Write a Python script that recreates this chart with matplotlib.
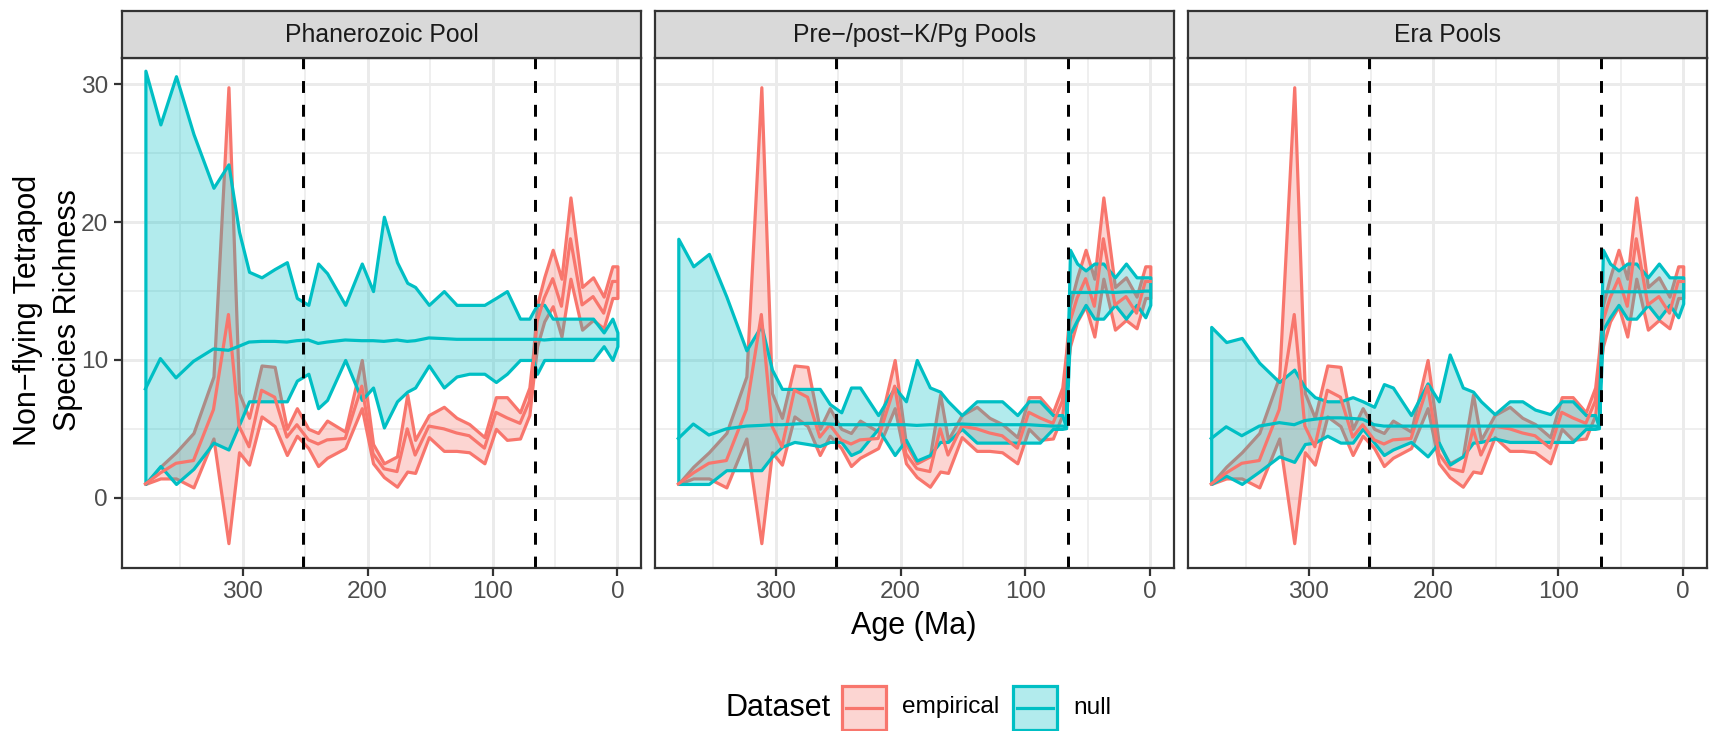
import matplotlib.pyplot as plt
from matplotlib.colors import to_rgba
from matplotlib.patches import Rectangle
from matplotlib.lines import Line2D

plt.rcParams['font.family'] = ['Liberation Sans', 'DejaVu Sans']

# time bins (Ma)
ages = [378, 366, 353.5, 339.5, 323.5, 311.5, 303, 295, 285, 274.5,
        264.7, 256.7, 247.5, 239.7, 232.5, 218, 204.7, 195.7, 187, 176.5,
        168.3, 162, 151, 139, 128.8, 118.7, 106.5, 97.3, 88.5, 78,
        70.5, 67.5, 64.3, 58.6, 51.8, 44.8, 37.6, 28.3, 19.5, 11, 4, 0]

# empirical richness (same in every panel)
emp_hi = [1.0, 2.25, 3.3, 4.7, 8.8, 29.8, 7.6, 5.8, 9.6, 9.5,
          5.0, 6.5, 5.0, 4.7, 5.6, 4.8, 10.0, 3.9, 2.5, 3.0,
          7.5, 4.2, 6.0, 6.6, 5.8, 5.35, 4.4, 7.3, 7.3, 6.2,
          8.0, 10.5, 14.0, 16.0, 18.0, 15.9, 21.8, 15.3, 16.0, 14.6, 16.8, 16.8]
emp_mid = [1.0, 1.8, 2.5, 2.7, 6.4, 13.3, 5.2, 3.7, 7.8, 7.3,
           4.4, 5.3, 4.2, 3.9, 4.2, 4.3, 8.1, 3.2, 2.1, 1.9,
           5.0, 3.1, 5.2, 5.0, 4.7, 4.5, 3.6, 6.2, 5.8, 5.4,
           7.0, 9.5, 12.8, 14.5, 15.9, 13.9, 18.8, 14.0, 14.6, 13.4, 15.7, 15.7]
emp_lo = [1.0, 1.4, 1.4, 0.75, 4.3, -3.3, 3.3, 2.4, 5.9, 5.2,
          3.1, 4.5, 3.6, 2.3, 2.9, 3.6, 6.5, 2.5, 1.5, 0.8,
          1.9, 1.8, 4.4, 3.4, 3.4, 3.3, 2.5, 5.0, 4.2, 4.3,
          6.0, 8.5, 11.0, 12.8, 13.9, 11.7, 15.9, 12.2, 12.9, 12.3, 14.5, 14.5]

# null model, Phanerozoic pool
n1_hi = [31.0, 27.1, 30.6, 26.4, 22.5, 24.2, 19.3, 16.4, 16.0, 16.6,
         17.1, 14.5, 14.0, 17.0, 16.3, 14.0, 17.0, 15.0, 20.4, 17.1,
         15.6, 15.3, 14.0, 15.0, 14.0, 14.0, 14.0, 14.5, 15.0, 13.0,
         13.0, 13.5, 14.0, 14.0, 13.0, 13.0, 13.0, 13.0, 13.0, 12.0, 13.0, 12.0]
n1_mid = [7.9, 10.1, 8.7, 9.9, 10.8, 10.7, 11.0, 11.3, 11.35, 11.35,
          11.3, 11.4, 11.45, 11.2, 11.3, 11.45, 11.4, 11.4, 11.35, 11.45,
          11.35, 11.4, 11.6, 11.55, 11.5, 11.5, 11.5, 11.5, 11.5, 11.5,
          11.5, 11.5, 11.5, 11.45, 11.5, 11.5, 11.5, 11.5, 11.5, 11.5, 11.5, 11.5]
n1_lo = [1.0, 2.3, 1.0, 2.1, 4.0, 3.5, 5.3, 7.0, 7.0, 7.0,
         7.0, 8.5, 9.0, 6.5, 7.1, 10.0, 7.1, 8.0, 5.1, 7.0,
         7.7, 8.0, 9.6, 8.0, 8.8, 9.0, 9.0, 8.4, 9.0, 10.0,
         10.0, 10.0, 9.0, 10.0, 10.0, 10.0, 10.0, 10.0, 10.0, 11.0, 10.0, 11.0]

# null model, pre-/post-K/Pg pools
n2_hi = [18.8, 16.8, 17.7, 14.6, 10.7, 12.5, 9.3, 7.9, 7.9, 7.9,
         7.9, 6.8, 6.2, 8.0, 8.0, 6.0, 8.0, 7.0, 10.0, 8.0,
         7.7, 7.0, 6.0, 7.0, 7.0, 7.0, 6.0, 7.0, 7.0, 6.0,
         6.0, 5.1, 18.0, 17.0, 16.5, 17.0, 17.0, 16.0, 17.0, 16.0, 16.0, 16.0]
n2_mid = [4.3, 5.35, 4.55, 5.0, 5.2, 5.25, 5.3, 5.3, 5.35, 5.4,
          5.4, 5.35, 5.3, 5.3, 5.3, 5.3, 5.3, 5.3, 5.25, 5.3,
          5.3, 5.3, 5.35, 5.3, 5.3, 5.3, 5.3, 5.3, 5.25, 5.2,
          5.2, 5.15, 14.9, 14.9, 14.9, 14.9, 14.95, 14.9, 14.95, 14.95, 15.0, 15.0]
n2_lo = [1.0, 1.0, 1.0, 2.0, 2.0, 2.0, 3.0, 3.7, 4.05, 3.9,
         3.75, 4.05, 4.05, 3.1, 3.4, 5.0, 3.1, 4.2, 2.7, 3.1,
         4.05, 4.05, 5.0, 4.0, 4.0, 4.0, 4.0, 4.0, 4.0, 5.0,
         5.0, 5.05, 11.9, 12.9, 14.0, 13.0, 13.0, 14.0, 13.0, 14.0, 13.1, 14.0]

# null model, era pools
n3_hi = [12.4, 11.3, 11.6, 9.8, 8.4, 9.3, 8.0, 7.3, 7.0, 7.0,
         7.3, 7.0, 6.6, 8.25, 8.0, 6.0, 8.3, 7.0, 10.4, 8.0,
         7.7, 7.0, 6.07, 7.0, 7.0, 6.4, 6.07, 7.0, 7.0, 6.0,
         6.0, 5.1, 18.0, 17.0, 16.5, 17.0, 17.0, 16.0, 17.0, 16.0, 16.0, 16.0]
n3_mid = [4.3, 5.15, 4.5, 5.2, 5.45, 5.3, 5.6, 5.7, 5.8, 5.8,
          5.75, 5.7, 5.3, 5.2, 5.2, 5.2, 5.2, 5.2, 5.2, 5.2,
          5.2, 5.2, 5.2, 5.2, 5.2, 5.2, 5.2, 5.2, 5.2, 5.2,
          5.2, 5.15, 14.95, 14.95, 14.95, 14.95, 14.95, 14.95, 14.95, 14.95, 14.95, 14.95]
n3_lo = [1.0, 1.6, 1.0, 1.9, 3.0, 2.6, 3.9, 4.0, 4.5, 4.0,
         4.0, 5.0, 4.0, 3.1, 3.5, 4.05, 3.0, 4.0, 2.4, 3.0,
         4.0, 4.05, 4.3, 4.05, 4.05, 4.05, 4.05, 4.05, 4.05, 5.0,
         5.0, 5.05, 12.2, 13.1, 14.0, 13.0, 13.0, 14.0, 13.0, 14.0, 13.1, 14.1]

panel_titles = ["Phanerozoic Pool", "Pre\u2212/post\u2212K/Pg Pools", "Era Pools"]
null_sets = [(n1_lo, n1_mid, n1_hi), (n2_lo, n2_mid, n2_hi), (n3_lo, n3_mid, n3_hi)]
boundaries = [252, 66]

EMP = '#F8766D'
NUL = '#00BFC4'
LW = 1.15
BORDER = 0.8
W, H = 1714, 731

fig = plt.figure(figsize=(W / 200, H / 200), dpi=200)


def box(left, top, width, height):
    return [left / W, 1 - (top + height) / H, width / W, height / H]


panel_lefts = [121.8, 654.7, 1187.6]
panel_w = 519.2
panel_top, panel_bot = 58.3, 567.7
strip_top = 11

for i in range(3):
    lo, mid, hi = null_sets[i]
    ax = fig.add_axes(box(panel_lefts[i], panel_top, panel_w, panel_bot - panel_top))
    ax.fill_between(ages, emp_lo, emp_hi, facecolor=to_rgba(EMP, 0.3),
                    edgecolor=EMP, linewidth=LW, joinstyle='round', zorder=2)
    ax.fill_between(ages, lo, hi, facecolor=to_rgba(NUL, 0.3),
                    edgecolor=NUL, linewidth=LW, joinstyle='round', zorder=3)
    ax.plot(ages, emp_mid, color=EMP, lw=LW, zorder=4)
    ax.plot(ages, mid, color=NUL, lw=LW, zorder=5)
    for b in boundaries:
        ax.axvline(b, color='black', lw=1.07, ls=(0, (4, 4)), zorder=6)

    ax.set_xlim(396.9, -18.9)
    ax.set_ylim(-5.08, 31.9)
    ax.set_xticks([300, 200, 100, 0])
    ax.set_xticks([350, 250, 150, 50], minor=True)
    ax.set_yticks([0, 10, 20, 30])
    ax.set_yticks([5, 15, 25], minor=True)
    ax.grid(which='major', color='#EBEBEB', lw=1.07)
    ax.grid(which='minor', color='#EBEBEB', lw=0.55)
    ax.set_axisbelow(True)
    ax.tick_params(which='major', length=2.75, width=BORDER, color='#333333',
                   labelsize=8.8, labelcolor='#4D4D4D', pad=2.2)
    ax.tick_params(which='minor', length=0)
    if i > 0:
        ax.tick_params(axis='y', length=0, labelleft=False)
    for s in ax.spines.values():
        s.set_color('#333333')
        s.set_linewidth(BORDER)
        s.set_zorder(10)

    sax = fig.add_axes(box(panel_lefts[i], strip_top, panel_w, panel_top - strip_top))
    sax.set_facecolor('#D9D9D9')
    sax.set_xticks([])
    sax.set_yticks([])
    for s in sax.spines.values():
        s.set_color('#333333')
        s.set_linewidth(BORDER)
    sax.text(0.5, 0.5, panel_titles[i], ha='center', va='center',
             fontsize=8.9, color='#1A1A1A', transform=sax.transAxes)

fig.text(48 / W, 1 - 310 / H, "Non\u2212flying Tetrapod\nSpecies Richness",
         rotation=90, ha='center', va='center', fontsize=11, linespacing=1.45)
fig.text(914 / W, 1 - 626 / H, "Age (Ma)", ha='center', va='center', fontsize=11)

# legend
ly = 707.5
key = 44
fig.text(726 / W, 1 - ly / H, "Dataset", ha='left', va='center', fontsize=11)
for kx, tx, col, lab in [(842, 902, EMP, "empirical"), (1013, 1073, NUL, "null")]:
    fig.add_artist(Rectangle((kx / W, 1 - (ly + key / 2) / H), key / W, key / H,
                             transform=fig.transFigure, facecolor=to_rgba(col, 0.3),
                             edgecolor=col, linewidth=LW))
    fig.add_artist(Line2D([(kx + 4) / W, (kx + key - 4) / W], [1 - ly / H, 1 - ly / H],
                          transform=fig.transFigure, color=col, lw=LW))
    fig.text(tx / W, 1 - ly / H, lab, ha='left', va='center', fontsize=8.8)

fig.savefig("out.png", dpi=200)
